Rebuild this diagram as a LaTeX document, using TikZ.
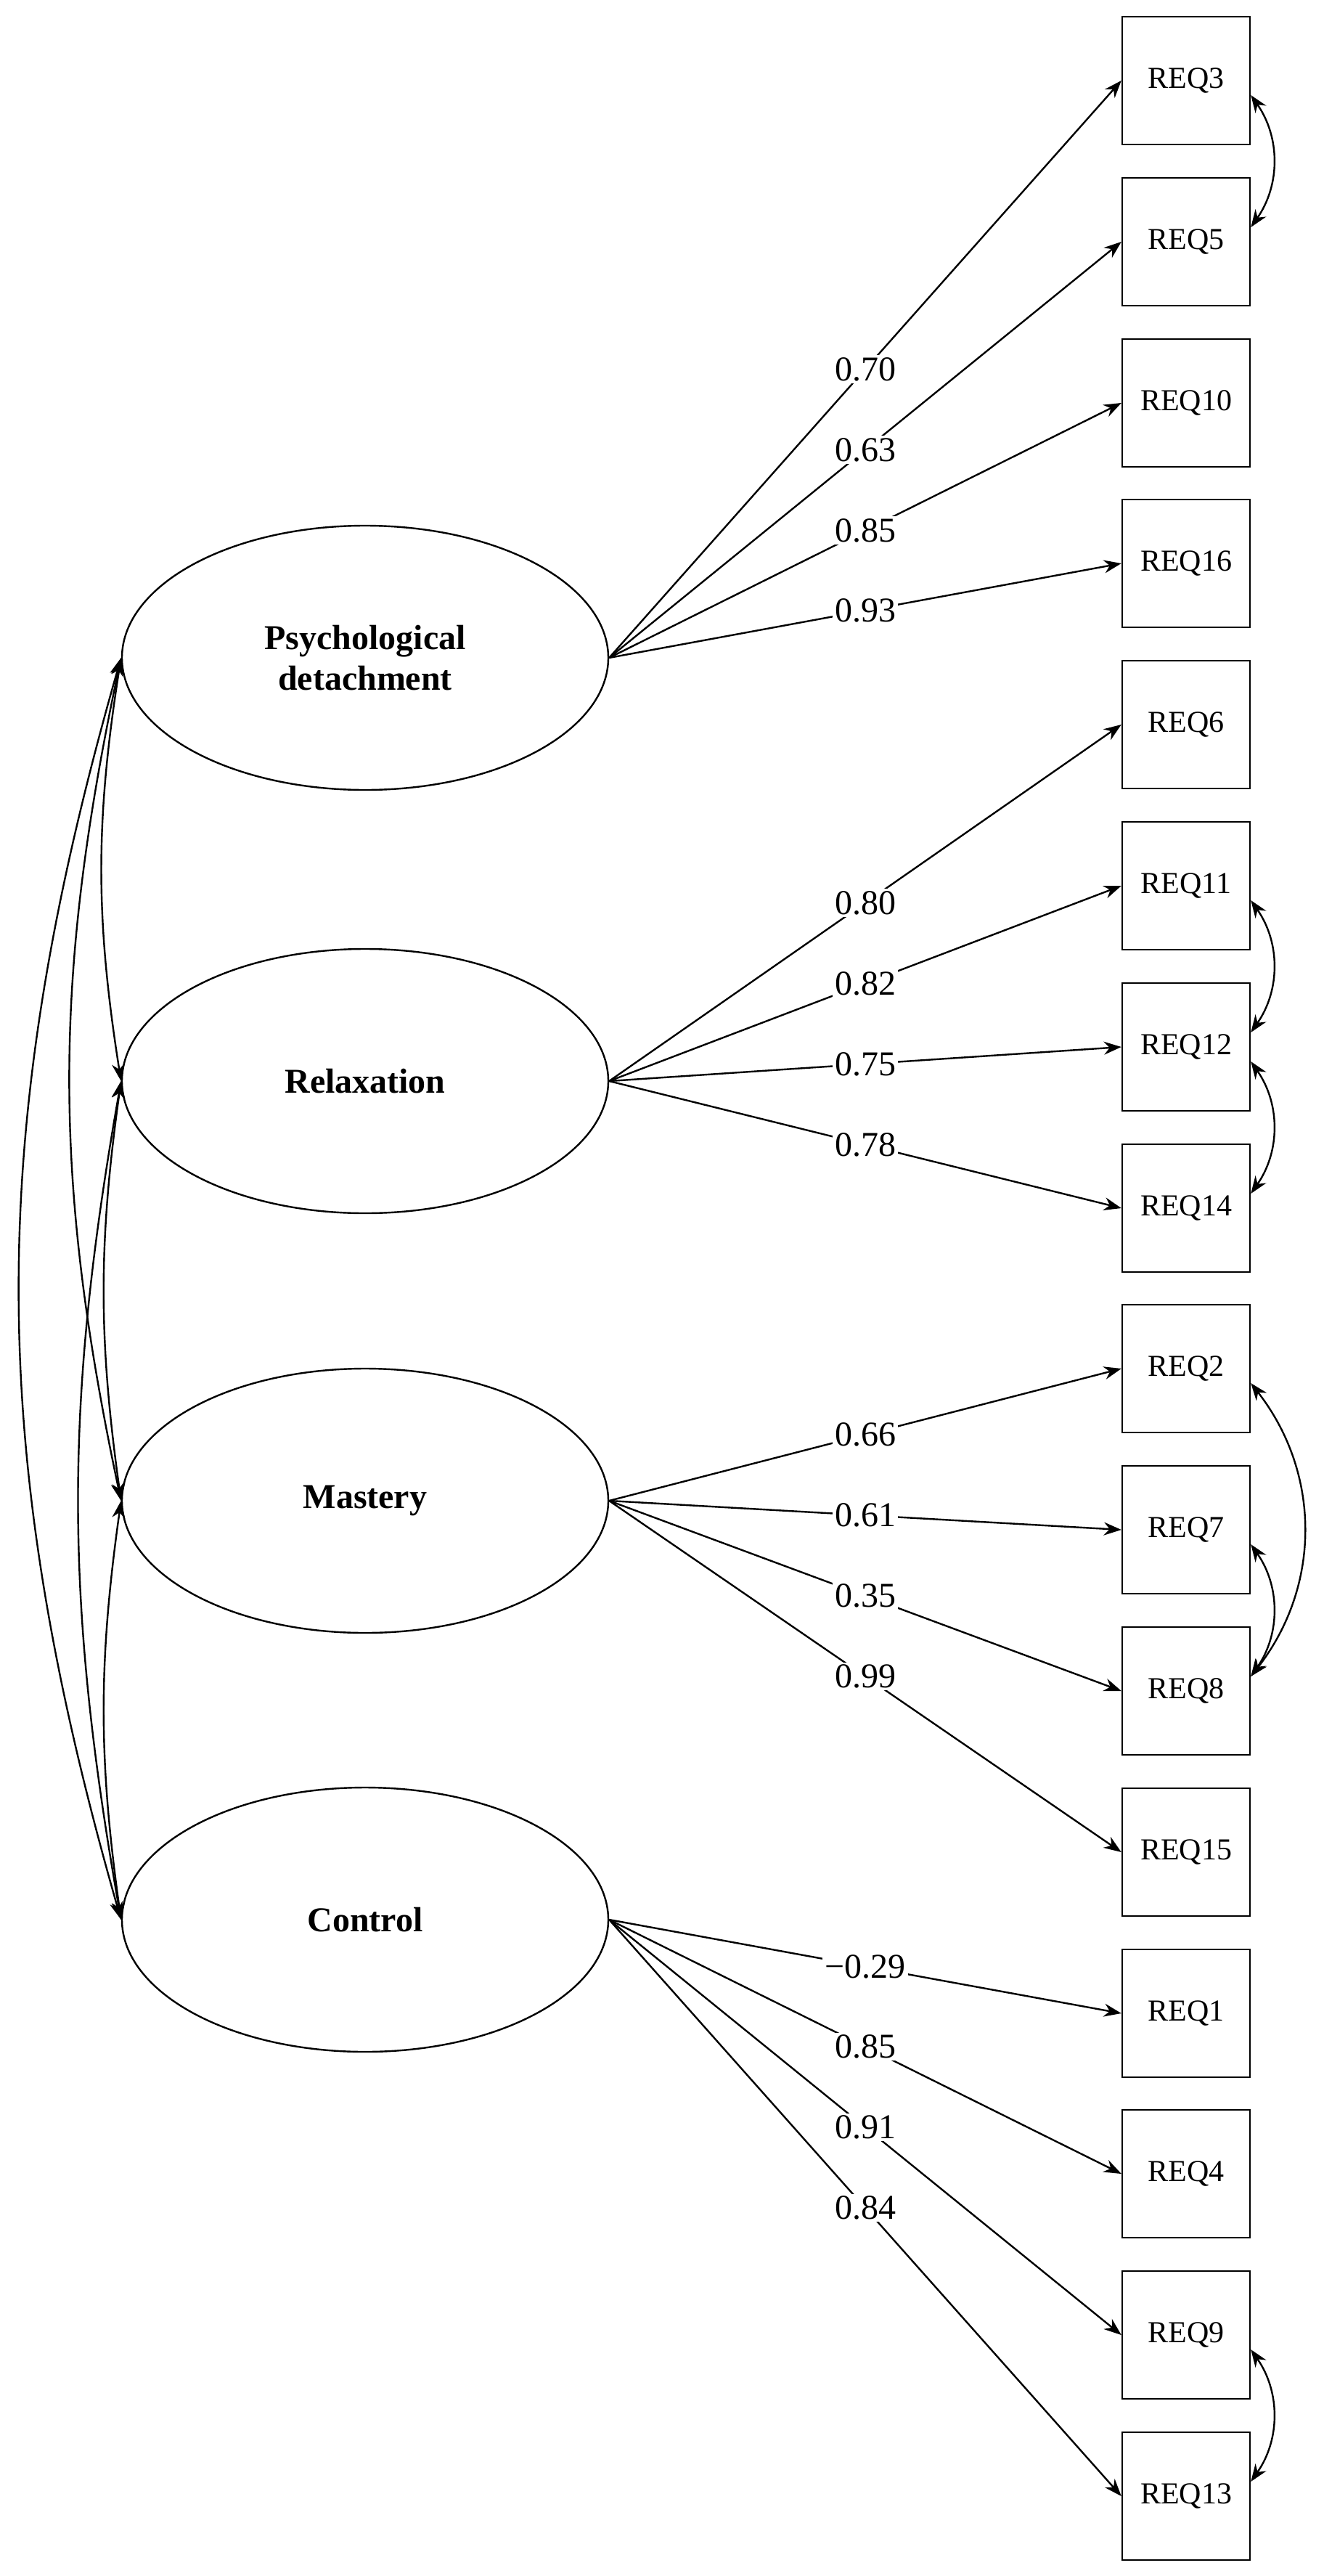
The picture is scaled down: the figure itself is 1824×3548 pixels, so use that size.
\documentclass[tikz,border=0pt]{standalone}
\usepackage{fontspec}
\setmainfont{Liberation Serif}
\usetikzlibrary{arrows.meta,shapes.geometric}
\begin{document}
\begin{tikzpicture}[x=0.5pt,y=-0.5pt,
  lat/.style={draw,line width=1.2pt,ellipse,minimum width=335pt,minimum height=182pt,inner sep=0pt,align=center,font=\fontsize{24}{28}\selectfont\bfseries},
  obs/.style={draw,line width=1.2pt,minimum width=88pt,minimum height=88pt,inner sep=0pt,font=\fontsize{21}{24}\selectfont},
  ld/.style={-{Stealth[length=12pt,width=9pt]},line width=1.2pt},
  cov/.style={{Stealth[length=12pt,width=9pt]}-{Stealth[length=12pt,width=9pt]},line width=1.2pt},
  lab/.style={pos=0.5,fill=white,inner sep=1.5pt,font=\fontsize{24}{28}\selectfont}]
\useasboundingbox (0,0) rectangle (1824,3548);
\node[lat] (pd) at (503,906) {Psychological\\detachment};
\node[lat] (rx) at (503,1489) {Relaxation};
\node[lat] (ms) at (503,2067) {Mastery};
\node[lat] (ct) at (503,2644) {Control};
\foreach \n/\y in {3/111,5/333,10/555,16/776,6/998,11/1220,12/1442,14/1664,2/1885,7/2107,8/2329,15/2551,1/2773,4/2994,9/3216,13/3438}
  \node[obs] (r\n) at (1634,\y) {REQ\n};
\draw[ld] (pd.east) -- (r3.west) node[lab]{0.70};
\draw[ld] (pd.east) -- (r5.west) node[lab]{0.63};
\draw[ld] (pd.east) -- (r10.west) node[lab]{0.85};
\draw[ld] (pd.east) -- (r16.west) node[lab]{0.93};
\draw[ld] (rx.east) -- (r6.west) node[lab]{0.80};
\draw[ld] (rx.east) -- (r11.west) node[lab]{0.82};
\draw[ld] (rx.east) -- (r12.west) node[lab]{0.75};
\draw[ld] (rx.east) -- (r14.west) node[lab]{0.78};
\draw[ld] (ms.east) -- (r2.west) node[lab]{0.66};
\draw[ld] (ms.east) -- (r7.west) node[lab]{0.61};
\draw[ld] (ms.east) -- (r8.west) node[lab]{0.35};
\draw[ld] (ms.east) -- (r15.west) node[lab]{0.99};
\draw[ld] (ct.east) -- (r1.west) node[lab]{−0.29};
\draw[ld] (ct.east) -- (r4.west) node[lab]{0.85};
\draw[ld] (ct.east) -- (r9.west) node[lab]{0.91};
\draw[ld] (ct.east) -- (r13.west) node[lab]{0.84};
% latent covariances
\draw[cov] (pd.west) to[bend right=9] (rx.west);
\draw[cov] (pd.west) to[bend right=12] (ms.west);
\draw[cov] (pd.west) to[bend right=16] (ct.west);
\draw[cov] (rx.west) to[bend right=8] (ms.west);
\draw[cov] (rx.west) to[bend right=10] (ct.west);
\draw[cov] (ms.west) to[bend right=8] (ct.west);
% residual covariances
\draw[cov] ([yshift=-10pt]r3.east) to[bend left=35] ([yshift=10pt]r5.east);
\draw[cov] ([yshift=-10pt]r11.east) to[bend left=35] ([yshift=10pt]r12.east);
\draw[cov] ([yshift=-10pt]r12.east) to[bend left=35] ([yshift=10pt]r14.east);
\draw[cov] ([yshift=-10pt]r2.east) to[bend left=38] ([yshift=10pt]r8.east);
\draw[cov] ([yshift=-10pt]r7.east) to[bend left=35] ([yshift=10pt]r8.east);
\draw[cov] ([yshift=-10pt]r9.east) to[bend left=35] ([yshift=10pt]r13.east);
\end{tikzpicture}
\end{document}
